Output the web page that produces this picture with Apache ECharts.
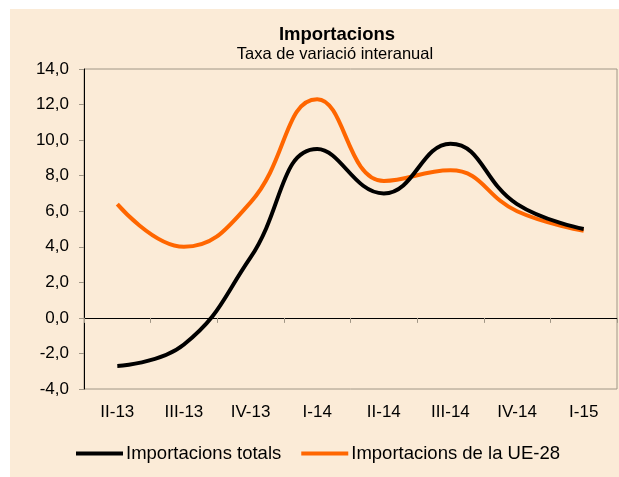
<!DOCTYPE html>
<html>
<head>
<meta charset="utf-8">
<script src="https://cdn.jsdelivr.net/npm/echarts@6/dist/echarts.min.js"></script>
<style>
html,body{margin:0;padding:0;background:#ffffff;}
#chart{width:619px;height:477px;}
</style>
</head>
<body>
<div id="chart"></div>
<script>
var categories = ['II-13', 'III-13', 'IV-13', 'I-14', 'II-14', 'III-14', 'IV-14', 'I-15'];
var totals = [-2.7, -1.5, 3.4, 9.5, 7.0, 9.8, 6.4, 5.0];
var ue28 = [6.4, 4.0, 6.5, 12.3, 7.7, 8.3, 6.0, 4.9];
var seriesNames = ['Importacions totals', 'Importacions de la UE-28'];

var font = '"Liberation Sans", Arial, sans-serif';
var chart = echarts.init(document.getElementById('chart'), null, {renderer: 'canvas'});
chart.setOption({
  backgroundColor: 'transparent',
  animation: false,
  graphic: [{
    type: 'rect', z: -10, silent: true,
    shape: {x: 10, y: 9, width: 609, height: 468},
    style: {fill: '#FBEBD7'}
  }],
  title: [{
    text: 'Importacions',
    left: 332, top: 20, textAlign: 'center',
    textStyle: {fontFamily: font, fontSize: 18.5, fontWeight: 'bold', color: '#000'}
  }, {
    text: 'Taxa de variació interanual',
    left: 330, top: 41, textAlign: 'center',
    textStyle: {fontFamily: font, fontSize: 16.5, fontWeight: 'normal', color: '#000'}
  }],
  legend: {
    left: 71, top: 439,
    itemWidth: 47, itemHeight: 4, itemGap: 20,
    textStyle: {fontFamily: font, fontSize: 18.5, color: '#000', padding: [0, 0, 0, -2]},
    data: [
      {name: seriesNames[0], icon: 'rect'},
      {name: seriesNames[1], icon: 'rect'}
    ]
  },
  grid: {
    left: 84, top: 69, width: 533, height: 320,
    show: true, borderColor: '#A09686', borderWidth: 1, backgroundColor: 'transparent'
  },
  xAxis: [{
    type: 'category', data: categories, boundaryGap: true,
    axisLine: {onZero: true, lineStyle: {color: '#000', width: 1}},
    axisTick: {show: true, length: 5, lineStyle: {color: '#A09686'}},
    axisLabel: {show: false},
    splitLine: {show: false}
  }, {
    type: 'category', data: categories, boundaryGap: true, position: 'bottom',
    axisLine: {show: false, onZero: false},
    axisTick: {show: false},
    axisLabel: {fontFamily: font, fontSize: 17, color: '#000', margin: 15},
    splitLine: {show: false}
  }],
  yAxis: {
    type: 'value', min: -4, max: 14, interval: 2,
    axisLine: {show: true, onZero: false, lineStyle: {color: '#000', width: 1}},
    axisTick: {show: true, length: 5, lineStyle: {color: '#A09686'}},
    axisLabel: {
      fontFamily: font, fontSize: 17, color: '#000', margin: 15,
      formatter: function (v) { return v.toFixed(1).replace('.', ','); }
    },
    splitLine: {show: false}
  },
  series: [{
    name: seriesNames[0], type: 'line', data: totals, smooth: 0.45,
    symbol: 'none', xAxisIndex: 0,
    lineStyle: {color: '#000000', width: 4}, itemStyle: {color: '#000000'}, z: 3
  }, {
    name: seriesNames[1], type: 'line', data: ue28, smooth: 0.45,
    symbol: 'none', xAxisIndex: 0,
    lineStyle: {color: '#FF6600', width: 4}, itemStyle: {color: '#FF6600'}, z: 2
  }]
});
</script>
</body>
</html>
